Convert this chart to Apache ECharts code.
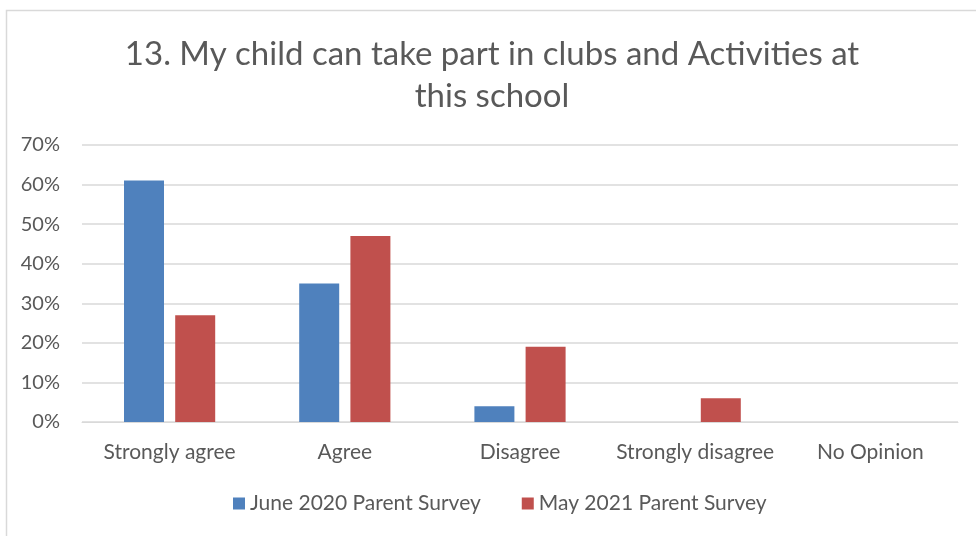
<!DOCTYPE html>
<html><head><meta charset="utf-8">
<script src="https://cdn.jsdelivr.net/npm/echarts@6/dist/echarts.min.js"></script>
<style>html,body{margin:0;padding:0;background:#fff}#c{width:976px;height:536px}</style>
</head><body><div id="c"></div>
<script>
const categories = ['Strongly agree', 'Agree', 'Disagree', 'Strongly disagree', 'No Opinion'];
const june2020 = [61, 35, 4, 0, 0];
const may2021 = [27, 47, 19, 6, 0];
const seriesNames = ['June 2020 Parent Survey', 'May 2021 Parent Survey'];
const titleText = '13. My child can take part in clubs and Activities at\nthis school';

const font = 'Lato, "Open Sans", sans-serif';
const chart = echarts.init(document.getElementById('c'));
chart.setOption({
  animation: false,
  graphic: [{ type: 'rect', left: 4, top: 8, shape: { width: 990, height: 560 }, style: { fill: 'none', stroke: '#d9d9d9', lineWidth: 1.5 } }],
  title: {
    text: titleText, left: 487, top: 28, textAlign: 'center',
    textStyle: { fontFamily: font, fontSize: 33, fontWeight: 'normal', color: '#595959', lineHeight: 42 }
  },
  legend: {
    bottom: 17, left: 228, itemWidth: 12, itemHeight: 12, itemGap: 41,
    icon: 'rect',
    textStyle: { fontFamily: font, fontSize: 21, color: '#595959' }
  },
  grid: { left: 82, right: 18, top: 145, bottom: 114 },
  xAxis: {
    type: 'category', data: categories,
    axisLine: { lineStyle: { color: '#d9d9d9' } }, axisTick: { show: false },
    axisLabel: { interval: 0, fontFamily: font, fontSize: 21, color: '#595959', margin: 20 }
  },
  yAxis: {
    type: 'value', min: 0, max: 70, interval: 10,
    axisLabel: { formatter: '{value}%', fontFamily: font, fontSize: 20, color: '#595959', margin: 22 },
    splitLine: { lineStyle: { color: '#d9d9d9', width: 1.5 } },
    axisLine: { show: false }, axisTick: { show: false }
  },
  series: [
    { name: seriesNames[0], type: 'bar', data: june2020, barWidth: 40, barGap: '28%', itemStyle: { color: '#4F81BD' } },
    { name: seriesNames[1], type: 'bar', data: may2021, barWidth: 40, barGap: '28%', itemStyle: { color: '#C0504D' } }
  ]
});
</script></body></html>
